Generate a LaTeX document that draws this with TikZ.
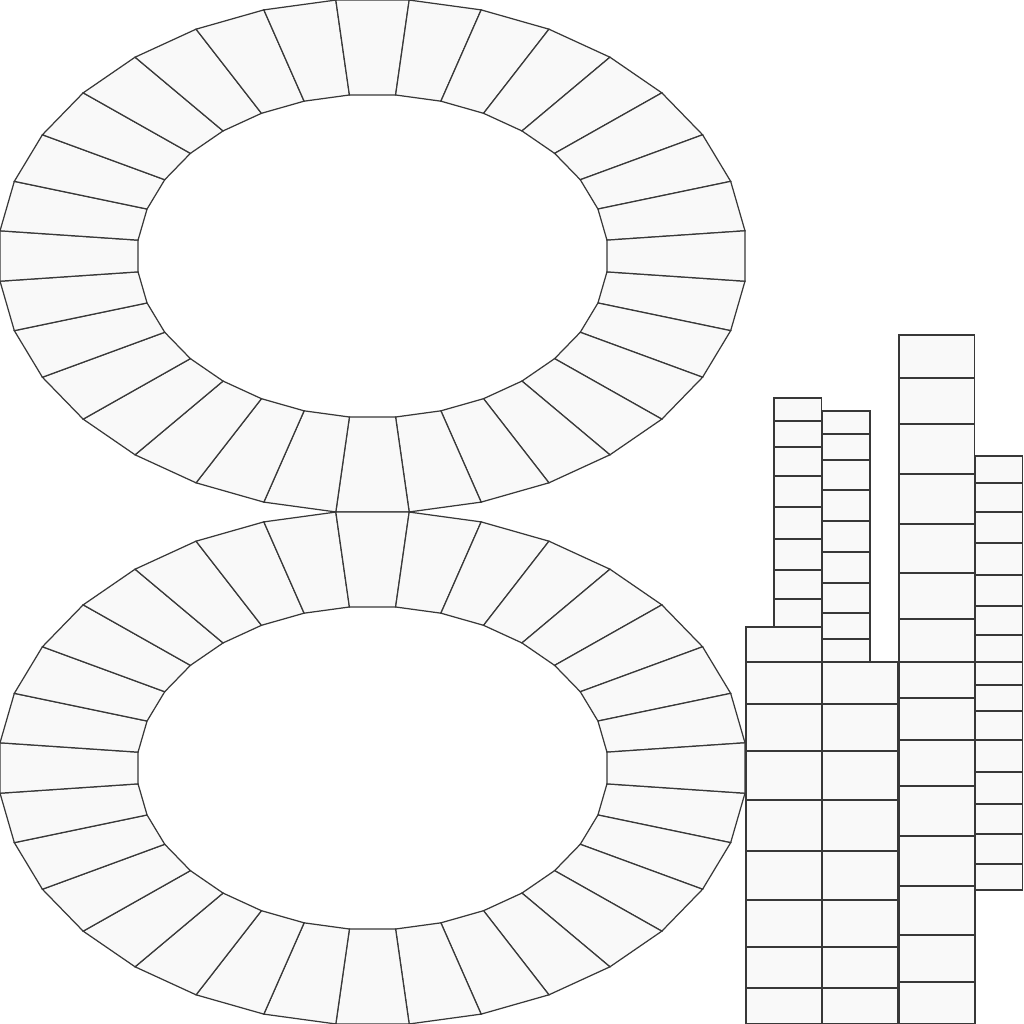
\documentclass[tikz,border=0pt]{standalone}
\usepackage{tikz}
\usetikzlibrary{calc}
\tikzset{
  seg/.style={draw=black!78, fill=black!2.5, line width=0.35pt, line join=miter},
  cell/.style={seg},
}

\begin{document}
\begin{tikzpicture}[x=0.01cm, y=-0.01cm]
  \useasboundingbox (0,0) rectangle (1024,1024);
  \clip (0,0) rectangle (1024,1024);

  % two rings of 32 segments
  \foreach \cy in {256,768}
    \foreach \k in {0,...,31} {
      \pgfmathsetmacro\a{5.625+\k*11.25}
      \pgfmathsetmacro\b{\a+11.25}
      \draw[seg] ([shift={(372.5,\cy)}]\a:374.3 and 257.2)
        -- ([shift={(372.5,\cy)}]\b:374.3 and 257.2)
        -- ([shift={(372.5,\cy)}]\b:235.6 and 161.8)
        -- ([shift={(372.5,\cy)}]\a:235.6 and 161.8) -- cycle;
    }

  % stacked columns: left/right/top/lower edges
  \foreach \xl/\xr/\yt/\ys in {
      746/822/627/{662,704,751,800,851,900,947,988,1024},
      822/898/662/{704,751,800,851,900,947,988,1024},
      899/975/662/{698,740,786,836,886,935,982,1024},
      975/1022.5/662/{685,711,740,772,804,834,864,890},
      774/821.5/398/{421,447,476,507,539,570,599,627},
      822/870/411/{434,460,490,521,552,583,613,639,662},
      899/974.5/335/{378,424,474,524,573,619,662},
      975/1022.5/456/{483,512,543,575,606,635,662}}
    \foreach \y [remember=\y as \yp (initially \yt)] in \ys
      \draw[cell] (\xl,\yp) rectangle (\xr,\y);
\end{tikzpicture}
\end{document}
